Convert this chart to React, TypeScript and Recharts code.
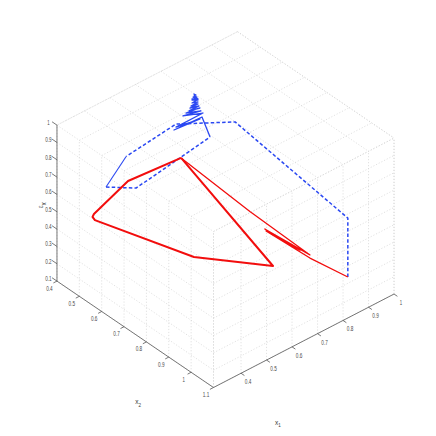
import React from "react";
import { ScatterChart, Scatter, XAxis, YAxis } from "recharts";

const x1Ticks = [0.4, 0.5, 0.6, 0.7, 0.8, 0.9, 1];
const x2Ticks = [0.4, 0.5, 0.6, 0.7, 0.8, 0.9, 1, 1.1];
const x3Ticks = [0.1, 0.2, 0.3, 0.4, 0.5, 0.6, 0.7, 0.8, 0.9, 1];
const x1Min = 0.292;
const x1Max = 1;
const x2Min = 0.4;
const x2Max = 1.1;
const x3Min = 0.1;
const x3Max = 1;

// red trajectory, heavy part
const redHeavyX1 = [0.613, 0.462, 0.337, 0.334, 0.339, 0.445, 0.621, 0.613];
const redHeavyX2 = [0.589, 0.524, 0.514, 0.511, 0.516, 0.838, 0.991, 0.589];
const redHeavyX3 = [0.732, 0.657, 0.553, 0.536, 0.518, 0.507, 0.455, 0.732];

// red trajectory, lighter tail
const redTailX1 = [0.613, 0.668, 0.736, 0.701, 0.714, 0.704, 0.736, 0.853];
const redTailX2 = [0.589, 0.834, 1.025, 0.863, 1.006, 0.865, 1.025, 1.061];
const redTailX3 = [0.732, 0.596, 0.461, 0.495, 0.489, 0.484, 0.443, 0.276];

// blue trajectory, dashed stretches
const blueDashAX1 = [0.853, 0.853, 0.766, 0.634, 0.458];
const blueDashAX2 = [1.061, 1.061, 0.656, 0.542, 0.52];
const blueDashAX3 = [0.276, 0.616, 0.882, 0.87, 0.798];

const blueDashBX1 = [0.38, 0.447, 0.71];
const blueDashBX2 = [0.519, 0.577, 0.608];
const blueDashBX3 = [0.68, 0.674, 0.795];

// blue trajectory, solid joins
const blueJoinX1 = [0.458, 0.38];
const blueJoinX2 = [0.52, 0.519];
const blueJoinX3 = [0.798, 0.68];

// blue spiral settling at the top
const blueSpiralX1 = [0.71, 0.7249, 0.6626, 0.7204, 0.667, 0.7271, 0.6826, 0.7227, 0.6893, 0.7204, 0.696, 0.7182, 0.6982, 0.716, 0.7004, 0.716, 0.7026, 0.7138, 0.7026, 0.716, 0.7026, 0.716, 0.7049, 0.7138, 0.7071, 0.7115, 0.7071, 0.7093];
const blueSpiralX2 = [0.608, 0.5549, 0.5007, 0.551, 0.5046, 0.5568, 0.5181, 0.5529, 0.5239, 0.551, 0.5297, 0.5491, 0.5317, 0.5471, 0.5336, 0.5471, 0.5355, 0.5452, 0.5355, 0.5471, 0.5355, 0.5471, 0.5375, 0.5452, 0.5394, 0.5433, 0.5394, 0.5413];
const blueSpiralX3 = [0.795, 0.853, 0.778, 0.8415, 0.795, 0.876, 0.859, 0.888, 0.876, 0.905, 0.888, 0.9165, 0.905, 0.928, 0.9165, 0.9395, 0.934, 0.951, 0.951, 0.951, 0.957, 0.957, 0.968, 0.968, 0.974, 0.98, 0.986, 0.974];

const SIZE = 436;
const GRID = "#d4d4d4";
const AXIS = "#555555";
const RED = "#f20d0d";
const BLUE = "#2a48f2";

function project(x1: number, x2: number, x3: number) {
  const u = x1 - x1Min;
  const v = x2Max - x2;
  return {
    x: 213.5 + 255 * u - 223.6 * v,
    y: 387.5 - 132 * u - 152 * v - 173.3 * (x3 - x3Min),
  };
}

function path(a: number[], b: number[], c: number[]) {
  return a.map((v, i) => project(v, b[i], c[i]));
}

const seg = (a: number[], b: number[]) => [project(a[0], a[1], a[2]), project(b[0], b[1], b[2])];

const gridLines = [
  // top face
  ...x1Ticks.map((t) => seg([t, x2Min, x3Max], [t, x2Max, x3Max])),
  ...x2Ticks.map((t) => seg([x1Min, t, x3Max], [x1Max, t, x3Max])),
  // wall along x2
  ...x2Ticks.map((t) => seg([x1Min, t, x3Min], [x1Min, t, x3Max])),
  ...x3Ticks.map((t) => seg([x1Min, x2Min, t], [x1Min, x2Max, t])),
  // wall along x1
  ...x1Ticks.map((t) => seg([t, x2Max, x3Min], [t, x2Max, x3Max])),
  ...x3Ticks.map((t) => seg([x1Min, x2Max, t], [x1Max, x2Max, t])),
  // box edges
  seg([x1Max, x2Min, x3Max], [x1Min, x2Min, x3Max]),
  seg([x1Max, x2Min, x3Max], [x1Max, x2Max, x3Max]),
  seg([x1Max, x2Max, x3Min], [x1Max, x2Max, x3Max]),
  seg([x1Min, x2Max, x3Min], [x1Min, x2Max, x3Max]),
];

const axisLines = [
  seg([x1Min, x2Min, x3Min], [x1Min, x2Min, x3Max]),
  seg([x1Min, x2Min, x3Min], [x1Min, x2Max, x3Min]),
  seg([x1Min, x2Max, x3Min], [x1Max, x2Max, x3Min]),
  ...x3Ticks.map((t) => seg([x1Min, x2Min, t], [x1Min, x2Min - 0.022, t])),
  ...x2Ticks.map((t) => seg([x1Min, t, x3Min], [x1Min - 0.014, t, x3Min])),
  ...x1Ticks.map((t) => seg([t, x2Max, x3Min], [t, x2Max + 0.015, x3Min])),
];

const x3Labels = x3Ticks.map((t) => ({ ...project(x1Min, x2Min, t), label: String(t) }));
const x2Labels = x2Ticks.map((t) => ({ ...project(x1Min, t, x3Min), label: String(t) }));
const x1Labels = x1Ticks.map((t) => ({ ...project(t, x2Max, x3Min), label: String(t) }));

const NoDot = () => <g />;

const tickText = (dx: number, dy: number) => (p: any) => (
  <text
    x={p.cx + dx}
    y={p.cy + dy}
    textAnchor="middle"
    dominantBaseline="central"
    fontFamily="Liberation Sans"
    fontSize={6.5}
    fill="#4a4a4a"
    textLength={p.payload.label.length > 1 ? 6.5 : 2.4}
    lengthAdjust="spacingAndGlyphs"
  >
    {p.payload.label}
  </text>
);

const axisName = (sub: string, dx: number, dy: number, rotate = 0) => (p: any) => (
  <text
    transform={`translate(${p.cx + dx} ${p.cy + dy}) rotate(${rotate})`}
    textAnchor="middle"
    fontFamily="Liberation Sans"
    fontSize={6.5}
    fill="#3a3a3a"
  >
    x
    <tspan fontSize={4.5} dy={2.5}>
      {sub}
    </tspan>
  </text>
);

function trace(key: string, data: any[], stroke: string, width: number, dash?: string) {
  return (
    <Scatter
      key={key}
      data={data}
      fill={stroke}
      line={{ stroke, strokeWidth: width, strokeDasharray: dash, strokeLinejoin: "round" }}
      lineType="joint"
      shape={NoDot}
      isAnimationActive={false}
    />
  );
}

export default function App() {
  return (
    <div style={{ position: "absolute", left: 0, top: 0, width: SIZE, height: SIZE, overflow: "hidden", background: "#fff" }}>
      <ScatterChart width={SIZE} height={SIZE} margin={{ top: 0, right: 0, bottom: 0, left: 0 }}>
        <XAxis type="number" dataKey="x" domain={[0, SIZE]} hide />
        <YAxis type="number" dataKey="y" domain={[0, SIZE]} reversed hide />
        {gridLines.map((l, i) => trace(`grid-${i}`, l, GRID, 0.7, "1.2 1.8"))}
        {axisLines.map((l, i) => trace(`axis-${i}`, l, AXIS, 0.8))}
        {trace("blue-a", path(blueDashAX1, blueDashAX2, blueDashAX3), BLUE, 1.5, "3.5 2.2")}
        {trace("blue-join", path(blueJoinX1, blueJoinX2, blueJoinX3), BLUE, 1.1)}
        {trace("blue-b", path(blueDashBX1, blueDashBX2, blueDashBX3), BLUE, 1.5, "3.5 2.2")}
        {trace("blue-spiral", path(blueSpiralX1, blueSpiralX2, blueSpiralX3), BLUE, 1.3)}
        {trace("red-tail", path(redTailX1, redTailX2, redTailX3), RED, 1.3)}
        {trace("red-heavy", path(redHeavyX1, redHeavyX2, redHeavyX3), RED, 2)}
        <Scatter data={x3Labels} shape={tickText(-8.5, -2.5)} isAnimationActive={false} />
        <Scatter data={x2Labels} shape={tickText(-7.5, 7)} isAnimationActive={false} />
        <Scatter data={x1Labels} shape={tickText(7, 8.5)} isAnimationActive={false} />
        <Scatter data={[project(x1Min, 0.75, x3Min)]} shape={axisName("2", 3, 70)} isAnimationActive={false} />
        <Scatter data={[project(0.646, x2Max, x3Min)]} shape={axisName("1", -26, 84)} isAnimationActive={false} />
        <Scatter data={[project(x1Min, x2Min, 0.55)]} shape={axisName("3", -15, 2, 90)} isAnimationActive={false} />
      </ScatterChart>
    </div>
  );
}
